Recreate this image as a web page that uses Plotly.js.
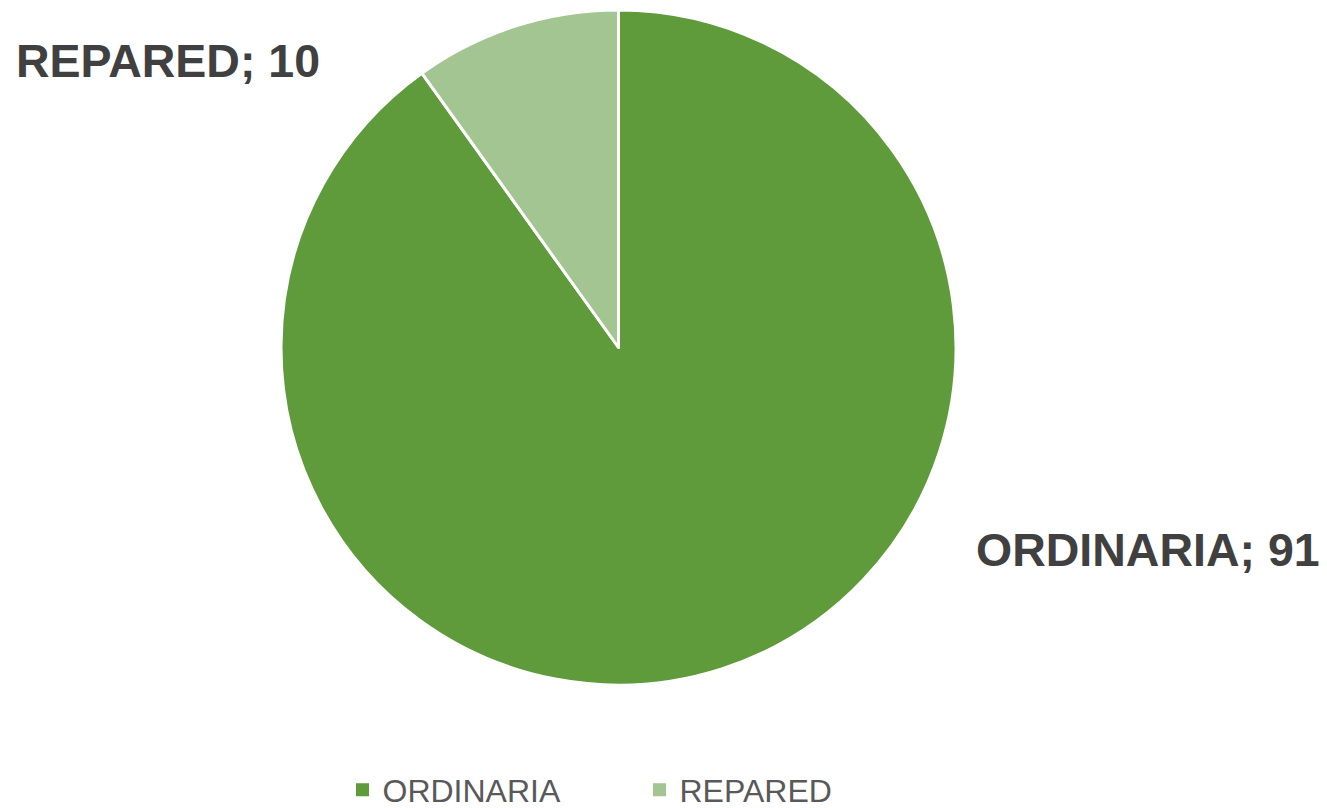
<!DOCTYPE html>
<html>
<head>
<meta charset="utf-8">
<script src="https://cdn.plot.ly/plotly-3.0.1.min.js"></script>
<style>html,body{margin:0;padding:0;background:#fff;}#chart{width:1327px;height:808px;}</style>
</head>
<body>
<div id="chart"></div>
<script>
const categories = ["ORDINARIA", "REPARED"];
const values = [91, 10];
const colors = ["#5f9a3b", "#a2c591"];

const labelPos = [
  {x: 1147.5/1327, y: 1 - 549.5/808},
  {x: 168/1327, y: 1 - 60.5/808}
];

const annotations = categories.map((c, i) => ({
  text: "<b>" + c + "; " + values[i] + "</b>",
  x: labelPos[i].x, y: labelPos[i].y,
  xref: "paper", yref: "paper",
  xanchor: "center", yanchor: "middle",
  showarrow: false,
  font: {family: "Liberation Sans, Arial, sans-serif", size: 46.5, color: "#404040"}
}));

const trace = {
  type: "pie",
  labels: categories,
  values: values,
  marker: {colors: colors, line: {color: "#ffffff", width: 3}},
  sort: false,
  direction: "clockwise",
  rotation: 0,
  textinfo: "none",
  hoverinfo: "label+value",
  domain: {x: [281/1327, 956/1327], y: [1 - 685/808, 1 - 10/808]}
};

const layout = {
  width: 1327, height: 808,
  margin: {l: 0, r: 0, t: 0, b: 0, autoexpand: false},
  paper_bgcolor: "#ffffff",
  showlegend: true,
  legend: {
    orientation: "h",
    x: (663.5 - 24) / 1327, xanchor: "center",
    y: 1 - 790/808, yanchor: "middle",
    entrywidth: 252, entrywidthmode: "pixels",
    font: {family: "Liberation Sans, Arial, sans-serif", size: 32, color: "#595959"}
  },
  annotations: annotations
};

function fixLegendSymbols() {
  document.querySelectorAll("#chart .legendpoints path").forEach(function (p) {
    p.setAttribute("d", "M-6.5,-6.5h13v13h-13Z");
    p.style.strokeWidth = "0px";
  });
}

Plotly.newPlot("chart", [trace], layout, {displayModeBar: false, staticPlot: true}).then(function () {
  fixLegendSymbols();
  setTimeout(fixLegendSymbols, 50);
});
</script>
</body>
</html>
